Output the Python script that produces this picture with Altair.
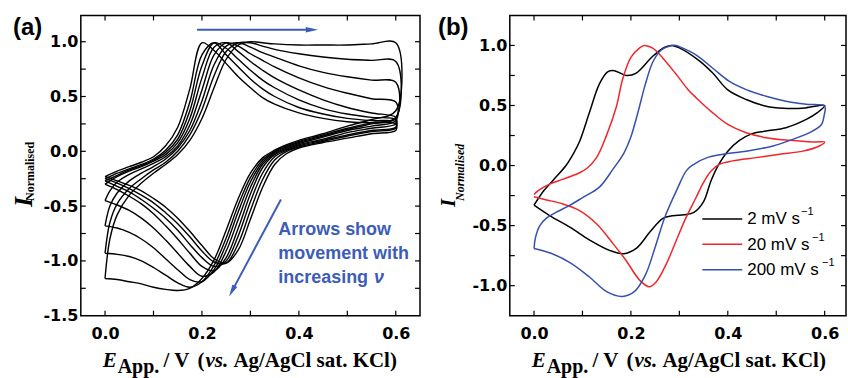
import altair as alt
import pandas as pd

SANS = "Liberation Sans"
WIDE = "DejaVu Sans"
SERIF = "Liberation Serif"
NOTE_BLUE = "#3c5cba"

# ---------------- panel (a): normalised CVs, slowest (1) to fastest (8) ----------------
A_E_FWD = [0.0, 0.01, 0.025, 0.05, 0.075, 0.1, 0.125, 0.15, 0.175, 0.2, 0.225,
           0.25, 0.275, 0.3, 0.325, 0.35, 0.4, 0.45, 0.5, 0.55, 0.6]
A_E_REV = [0.6, 0.55, 0.5, 0.45, 0.4, 0.375, 0.35, 0.325, 0.3, 0.275, 0.25,
           0.225, 0.2, 0.175, 0.15, 0.125, 0.1, 0.075, 0.05, 0.025, 0.0]

A_FWD_1 = [-0.23, -0.21, -0.18, -0.14, -0.10, -0.05, 0.05, 0.22, 0.57, 0.99, 0.92, 0.80, 0.68, 0.58, 0.49, 0.43, 0.35, 0.30, 0.27, 0.26, 0.25]
A_FWD_2 = [-0.25, -0.23, -0.20, -0.16, -0.12, -0.07, 0.01, 0.15, 0.45, 0.88, 0.99, 0.88, 0.77, 0.66, 0.57, 0.50, 0.40, 0.34, 0.30, 0.28, 0.27]
A_FWD_3 = [-0.27, -0.25, -0.22, -0.17, -0.13, -0.08, -0.01, 0.11, 0.37, 0.78, 0.99, 0.94, 0.84, 0.74, 0.65, 0.58, 0.47, 0.39, 0.34, 0.31, 0.29]
A_FWD_4 = [-0.30, -0.27, -0.23, -0.18, -0.14, -0.09, -0.03, 0.08, 0.30, 0.67, 0.95, 0.99, 0.91, 0.82, 0.74, 0.67, 0.56, 0.47, 0.40, 0.35, 0.31]
A_FWD_5 = [-0.45, -0.36, -0.28, -0.21, -0.16, -0.11, -0.05, 0.05, 0.24, 0.56, 0.88, 0.99, 0.96, 0.89, 0.83, 0.77, 0.67, 0.59, 0.53, 0.48, 0.45]
A_FWD_6 = [-0.68, -0.50, -0.38, -0.27, -0.20, -0.14, -0.07, 0.03, 0.19, 0.46, 0.79, 0.96, 0.99, 0.95, 0.90, 0.86, 0.78, 0.72, 0.68, 0.65, 0.63]
A_FWD_7 = [-0.93, -0.65, -0.48, -0.34, -0.25, -0.17, -0.10, 0.00, 0.15, 0.38, 0.69, 0.91, 0.99, 0.99, 0.96, 0.93, 0.89, 0.86, 0.84, 0.83, 0.82]
A_FWD_8 = [-1.16, -0.80, -0.58, -0.40, -0.29, -0.20, -0.12, -0.03, 0.10, 0.30, 0.58, 0.84, 0.97, 1.00, 0.99, 0.98, 0.97, 0.97, 0.97, 0.98, 0.99]

A_REV_1 = [0.19, 0.16, 0.12, 0.08, 0.03, -0.02, -0.12, -0.33, -0.62, -0.90, -1.02, -0.98, -0.86, -0.73, -0.61, -0.51, -0.43, -0.36, -0.31, -0.27, -0.23]
A_REV_2 = [0.21, 0.18, 0.14, 0.09, 0.04, 0.00, -0.08, -0.26, -0.54, -0.84, -1.02, -1.01, -0.91, -0.78, -0.66, -0.56, -0.47, -0.40, -0.34, -0.29, -0.25]
A_REV_3 = [0.22, 0.19, 0.15, 0.10, 0.05, 0.01, -0.05, -0.20, -0.46, -0.77, -1.00, -1.05, -0.97, -0.85, -0.72, -0.61, -0.52, -0.44, -0.37, -0.32, -0.27]
A_REV_4 = [0.25, 0.21, 0.17, 0.11, 0.06, 0.02, -0.03, -0.15, -0.39, -0.70, -0.97, -1.09, -1.05, -0.93, -0.80, -0.68, -0.57, -0.48, -0.41, -0.35, -0.30]
A_REV_5 = [0.28, 0.23, 0.19, 0.13, 0.07, 0.03, -0.02, -0.12, -0.33, -0.62, -0.91, -1.10, -1.14, -1.05, -0.93, -0.81, -0.70, -0.61, -0.54, -0.49, -0.45]
A_REV_6 = [0.30, 0.25, 0.20, 0.14, 0.08, 0.04, -0.01, -0.10, -0.28, -0.55, -0.85, -1.08, -1.19, -1.17, -1.08, -0.98, -0.88, -0.80, -0.74, -0.70, -0.68]
A_REV_7 = [0.31, 0.26, 0.21, 0.15, 0.09, 0.05, 0.00, -0.08, -0.24, -0.49, -0.79, -1.04, -1.19, -1.24, -1.20, -1.13, -1.06, -1.00, -0.96, -0.94, -0.93]
A_REV_8 = [0.37, 0.29, 0.23, 0.16, 0.10, 0.06, 0.01, -0.06, -0.20, -0.43, -0.72, -0.99, -1.16, -1.25, -1.27, -1.26, -1.24, -1.21, -1.19, -1.17, -1.16]

A_FWD = [A_FWD_1, A_FWD_2, A_FWD_3, A_FWD_4, A_FWD_5, A_FWD_6, A_FWD_7, A_FWD_8]
A_REV = [A_REV_1, A_REV_2, A_REV_3, A_REV_4, A_REV_5, A_REV_6, A_REV_7, A_REV_8]

# arrows in panel (a): shaft start and head position (E / V, I)
ARROW_TOP_E = [0.19, 0.427]
ARROW_TOP_I = [1.11, 1.11]
ARROW_DIAG_E = [0.363, 0.262]
ARROW_DIAG_I = [-0.44, -1.276]

# ---------------- panel (b): three scan rates ----------------
B_LABELS = ["2 mV s", "20 mV s", "200 mV s"]
B_COLORS = ["#000000", "#f0262a", "#3550b0"]

B_2_E = [0.0, 0.02, 0.04, 0.066, 0.08, 0.094, 0.115, 0.135, 0.152, 0.166, 0.19, 0.211, 0.245, 0.27, 0.285, 0.30,
         0.342, 0.369, 0.40, 0.438, 0.479, 0.515, 0.56, 0.60,
         0.585, 0.562, 0.52, 0.479, 0.448, 0.424, 0.40, 0.38, 0.365, 0.35, 0.33, 0.31, 0.286, 0.266, 0.24,
         0.211, 0.185, 0.156, 0.115, 0.074, 0.032, 0.0]
B_2_I = [-0.33, -0.21, -0.12, 0.0, 0.09, 0.2, 0.45, 0.68, 0.78, 0.79, 0.75, 0.77, 0.91, 0.985, 1.0, 0.98,
         0.87, 0.77, 0.63, 0.55, 0.494, 0.477, 0.48, 0.50,
         0.44, 0.384, 0.315, 0.287, 0.262, 0.21, 0.12, 0.0, -0.13, -0.30, -0.39, -0.41, -0.417, -0.44, -0.55,
         -0.69, -0.734, -0.706, -0.62, -0.513, -0.416, -0.33]

B_20_E = [0.0, 0.008, 0.032, 0.06, 0.094, 0.11, 0.129, 0.149, 0.17, 0.183, 0.2, 0.218, 0.228, 0.245, 0.266, 0.294,
          0.318, 0.335, 0.369, 0.40, 0.438, 0.479, 0.527, 0.575, 0.60,
          0.589, 0.555, 0.507, 0.4585, 0.41, 0.383, 0.366, 0.35, 0.334, 0.313, 0.293, 0.273, 0.252, 0.238,
          0.218, 0.19, 0.163, 0.129, 0.094, 0.06, 0.026, 0.0]
B_20_I = [-0.24, -0.21, -0.154, -0.113, -0.06, -0.02, 0.066, 0.245, 0.49, 0.72, 0.9, 0.98, 1.0, 0.977, 0.894, 0.757,
          0.632, 0.563, 0.439, 0.343, 0.273, 0.232, 0.21, 0.196, 0.196,
          0.163, 0.12, 0.094, 0.066, 0.039, 0.011, -0.044, -0.14, -0.27, -0.44, -0.63, -0.82, -0.97, -1.01,
          -0.954, -0.79, -0.65, -0.485, -0.375, -0.32, -0.286, -0.26]

B_200_E = [0.0, 0.003, 0.012, 0.025, 0.045, 0.07, 0.101, 0.135, 0.163, 0.185, 0.2, 0.215, 0.23, 0.245, 0.262, 0.28,
           0.293, 0.30, 0.335, 0.369, 0.4035, 0.438, 0.479, 0.52, 0.562, 0.60,
           0.599, 0.593, 0.575, 0.534, 0.493, 0.438, 0.40, 0.36, 0.33, 0.315, 0.295, 0.27, 0.25, 0.23,
           0.207, 0.182, 0.15, 0.115, 0.075, 0.035, 0.0]
B_200_I = [-0.69, -0.6, -0.5, -0.44, -0.39, -0.34, -0.265, -0.18, -0.03, 0.1, 0.24, 0.45, 0.68, 0.86, 0.96, 0.995,
           1.0, 0.99, 0.92, 0.81, 0.70, 0.632, 0.577, 0.536, 0.51, 0.494,
           0.42, 0.34, 0.287, 0.218, 0.163, 0.12, 0.1, 0.07, 0.01, -0.04, -0.2, -0.43, -0.68, -0.91,
           -1.05, -1.09, -1.05, -0.93, -0.81, -0.73, -0.69]

X_LABELS = [0.0, 0.2, 0.4, 0.6]
X_MINOR = [0.0, 0.1, 0.2, 0.3, 0.4, 0.5, 0.6]
A_Y_LABELS = [-1.5, -1.0, -0.5, 0.0, 0.5, 1.0]
A_Y_MINOR = [-1.25, -1.0, -0.75, -0.5, -0.25, 0.0, 0.25, 0.5, 0.75, 1.0]
B_Y_LABELS = [-1.0, -0.5, 0.0, 0.5, 1.0]
B_Y_MINOR = [-1.0, -0.75, -0.5, -0.25, 0.0, 0.25, 0.5, 0.75, 1.0]

W_A, W_B, H = 340, 337, 301

# ---------------- tables ----------------
rows = []
for k, (f, r) in enumerate(zip(A_FWD, A_REV)):
    for j, (e, i) in enumerate(zip(A_E_FWD + A_E_REV, f + r)):
        rows.append({"curve": k, "step": j, "E": e, "I": i})
df_a = pd.DataFrame(rows)

rows = []
for lab, es, cs in zip(B_LABELS, [B_2_E, B_20_E, B_200_E], [B_2_I, B_20_I, B_200_I]):
    for j, (e, i) in enumerate(zip(es, cs)):
        rows.append({"rate": lab, "step": j, "E": e, "I": i})
df_b = pd.DataFrame(rows)

MINUS_FIX = "replace(datum.label, '\u2212', '-')"


def x_axis():
    return alt.Axis(values=X_LABELS, format=".1f", labels=True, ticks=False, domain=False, grid=False,
                    labelFont=WIDE, labelFontWeight="bold", labelFontSize=16, labelColor="black",
                    labelPadding=10, title=None)


def y_axis(vals):
    return alt.Axis(values=vals, format=".1f", labelExpr=MINUS_FIX, labels=True, ticks=False, domain=False,
                    grid=False, labelFont=WIDE, labelFontWeight="bold", labelFontSize=16, labelColor="black",
                    labelPadding=3, title=None)


def piece(txt, x, y, size, family, weight="bold", style="normal", color="black", angle=0, align="left"):
    kw = dict(text=txt, fontSize=size, font=family, fontWeight=weight, fontStyle=style, color=color,
              align=align, baseline="alphabetic")
    if angle:
        kw["angle"] = angle
    return alt.Chart(pd.DataFrame({"k": [0]})).mark_text(**kw).encode(x=alt.value(x), y=alt.value(y))


def inner_ticks(xs, ys, xvals, yvals, w):
    xt = pd.DataFrame({"E": xvals})
    yt = pd.DataFrame({"I": yvals})
    rule = dict(color="black", strokeWidth=1.2)
    xenc = alt.X("E:Q", scale=xs)
    yenc = alt.Y("I:Q", scale=ys)
    return [
        alt.Chart(xt).mark_rule(**rule).encode(x=xenc, y=alt.value(H), y2=alt.value(H - 5)),
        alt.Chart(xt).mark_rule(**rule).encode(x=xenc, y=alt.value(0), y2=alt.value(5)),
        alt.Chart(yt).mark_rule(**rule).encode(y=yenc, x=alt.value(0), x2=alt.value(5)),
        alt.Chart(yt).mark_rule(**rule).encode(y=yenc, x=alt.value(w), x2=alt.value(w - 5)),
    ]


def x_title():
    return [
        piece("E", 22, 352, 21, SERIF, style="italic"),
        piece("App.", 37, 358, 20, SERIF),
        piece("/ V", 83, 352, 21, SERIF),
        piece("(", 117, 352, 21, SERIF),
        piece("vs.", 125, 352, 21, SERIF, style="italic"),
        piece("Ag/AgCl sat. KCl)", 153, 352, 21, SERIF),
    ]


# ---------------- panel (a) ----------------
xs_a = alt.Scale(domain=[-0.05, 0.65], nice=False, zero=False)
ys_a = alt.Scale(domain=[-1.5, 1.24], nice=False, zero=False)

curves_a = alt.Chart(df_a).mark_line(color="black", strokeWidth=1.4, interpolate="catmull-rom").encode(
    x=alt.X("E:Q", scale=xs_a, axis=x_axis()),
    y=alt.Y("I:Q", scale=ys_a, axis=y_axis(A_Y_LABELS)),
    detail="curve:N",
    order="step:Q",
)


def arrow(es, is_, head_angle):
    d = pd.DataFrame({"E": es, "I": is_})
    shaft = alt.Chart(d).mark_line(color=NOTE_BLUE, strokeWidth=2).encode(
        x=alt.X("E:Q", scale=xs_a), y=alt.Y("I:Q", scale=ys_a))
    head = alt.Chart(d.tail(1)).mark_point(
        shape="M0,-1L0.45,1L-0.45,1Z", filled=True, color=NOTE_BLUE, opacity=1, size=150, angle=head_angle
    ).encode(x=alt.X("E:Q", scale=xs_a), y=alt.Y("I:Q", scale=ys_a))
    return [shaft, head]


panel_a = alt.layer(
    curves_a,
    *inner_ticks(xs_a, ys_a, X_MINOR, A_Y_MINOR, W_A),
    *arrow(ARROW_TOP_E, ARROW_TOP_I, 90),
    *arrow(ARROW_DIAG_E, ARROW_DIAG_I, 208),
    piece("Arrows show", 198, 220, 18, SANS, color=NOTE_BLUE),
    piece("movement with", 198, 244, 18, SANS, color=NOTE_BLUE),
    piece("increasing", 198, 268, 18, SANS, color=NOTE_BLUE),
    piece("\u03bd", 294, 268, 18, SANS, style="italic", color=NOTE_BLUE),
    piece("(a)", -68, 20, 24, SANS),
    piece("I", -49, 192, 26, SERIF, style="italic", angle=270),
    piece("Normalised", -47, 186, 12, SERIF, angle=270),
    *x_title(),
).properties(width=W_A, height=H)

# ---------------- panel (b) ----------------
xs_b = alt.Scale(domain=[-0.05, 0.644], nice=False, zero=False)
ys_b = alt.Scale(domain=[-1.25, 1.25], nice=False, zero=False)

curves_b = alt.Chart(df_b).mark_line(strokeWidth=1.5, interpolate="catmull-rom").encode(
    x=alt.X("E:Q", scale=xs_b, axis=x_axis()),
    y=alt.Y("I:Q", scale=ys_b, axis=y_axis(B_Y_LABELS)),
    color=alt.Color("rate:N", scale=alt.Scale(domain=B_LABELS, range=B_COLORS), legend=None),
    detail="rate:N",
    order="step:Q",
)

legend_b = []
for n, (lab, col) in enumerate(zip(B_LABELS, B_COLORS)):
    ly = 204 + 25.5 * n
    legend_b.append(
        alt.Chart(pd.DataFrame({"k": [0]})).mark_rule(color=col, strokeWidth=1.5).encode(
            x=alt.value(193), x2=alt.value(233), y=alt.value(ly))
    )
    legend_b.append(piece(lab, 238, ly + 5.5, 17, SANS, weight="normal"))
    legend_b.append(piece("\u22121", [292, 303, 313][n], ly - 3.5, 11, SANS, weight="normal"))

panel_b = alt.layer(
    curves_b,
    *inner_ticks(xs_b, ys_b, X_MINOR, B_Y_MINOR, W_B),
    *legend_b,
    piece("(b)", -72, 20, 24, SANS),
    piece("I", -55, 192, 21, SERIF, style="italic", angle=270),
    piece("Normalised", -46, 186, 12, SERIF, style="italic", angle=270),
    *x_title(),
).properties(width=W_B, height=H)

chart = alt.hconcat(panel_a, panel_b, spacing=90, bounds="flush").properties(
    padding={"left": 10, "top": 13, "right": 0, "bottom": 0},
    autosize=alt.AutoSizeParams(type="pad"),
).configure_view(stroke="black", strokeWidth=1.5)

chart.save("out.html", embed_options={"renderer": "svg", "actions": False})
